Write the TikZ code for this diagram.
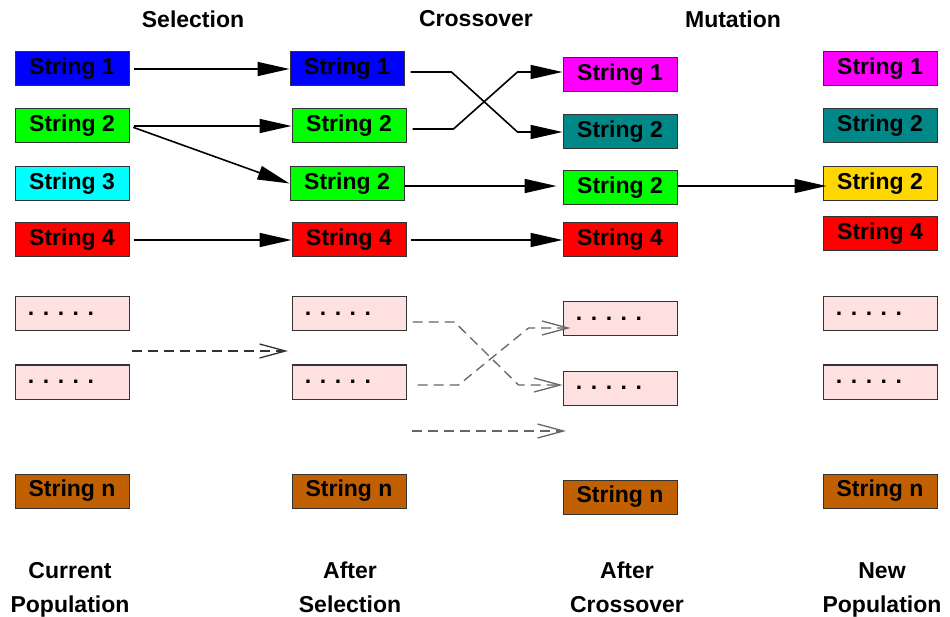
\documentclass[tikz,border=0pt]{standalone}
\usepackage{fontspec}
\setmainfont{Liberation Sans}
\usetikzlibrary{arrows.meta,positioning}

\definecolor{sblue}{RGB}{0,0,255}
\definecolor{sgreen}{RGB}{0,255,0}
\definecolor{scyan}{RGB}{0,255,255}
\definecolor{sred}{RGB}{255,0,0}
\definecolor{smagenta}{RGB}{255,0,255}
\definecolor{steal}{RGB}{0,136,136}
\definecolor{sgold}{RGB}{255,214,0}
\definecolor{spink}{RGB}{255,224,224}
\definecolor{sbrown}{RGB}{192,96,0}

\tikzset{
    strbox/.style={draw=black!80, line width=1pt, minimum width=114pt, minimum height=34pt,
        inner sep=0pt, font=\bfseries\fontsize{23}{27}\selectfont},
    dotbox/.style={strbox, fill=spink},
    solidarr/.style={line width=1.6pt, -{Triangle[length=32pt,width=14pt]}},
    dasharr/.style={line width=1.3pt, dash pattern=on 10pt off 6pt,
        -{Straight Barb[length=26pt,width=14pt]}},
    lbl/.style={font=\bfseries\fontsize{23}{34}\selectfont, align=center},
    collbl/.style={lbl, inner sep=0pt, anchor=north}
}

\begin{document}
\begin{tikzpicture}[x=1pt,y=-1pt]
    \useasboundingbox (0,0) rectangle (950,617);

    % headings
    \node[lbl] (hsel) at (193,19) {Selection};
    \node[lbl] (hcross) at (476,19) {Crossover};
    \node[lbl] (hmut) at (733,19) {Mutation};

    % current population
    \node[strbox, fill=sblue] (a1) at (72,69) {String 1};
    \node[strbox, fill=sgreen] (a2) at (72,126) {String 2};
    \node[strbox, fill=scyan] (a3) at (72,183.5) {String 3};
    \node[strbox, fill=sred] (a4) at (72,240) {String 4};
    \node[strbox, fill=sbrown] (an) at (72,491) {String n};

    % after selection
    \node[strbox, fill=sblue] (b1) at (347,69) {String 1};
    \node[strbox, fill=sgreen] (b2) at (349,126) {String 2};
    \node[strbox, fill=sgreen] (b3) at (347,183.5) {String 2};
    \node[strbox, fill=sred] (b4) at (349,240) {String 4};
    \node[strbox, fill=sbrown] (bn) at (349,491) {String n};

    % after crossover
    \node[strbox, fill=smagenta] (c1) at (620,75) {String 1};
    \node[strbox, fill=steal] (c2) at (620,132) {String 2};
    \node[strbox, fill=sgreen] (c3) at (620,188) {String 2};
    \node[strbox, fill=sred] (c4) at (620,240) {String 4};
    \node[strbox, fill=sbrown] (cn) at (620,497) {String n};

    % new population
    \node[strbox, fill=smagenta] (e1) at (880,69) {String 1};
    \node[strbox, fill=steal] (e2) at (880,126) {String 2};
    \node[strbox, fill=sgold] (e3) at (880,183.5) {String 2};
    \node[strbox, fill=sred] (e4) at (880,234) {String 4};
    \node[strbox, fill=sbrown] (en) at (880,491) {String n};

    % placeholder strings
    \foreach \name/\x/\y in {da1/72/314, da2/72/382, db1/349/314, db2/349/382,
                             dc1/620/319, dc2/620/388, de1/880/314, de2/880/382} {
        \node[dotbox] (\name) at (\x,\y) {. . . . .\kern22pt};
    }

    % selection
    \draw[solidarr, shorten <=4pt] (a1.east) -- (b1.west);
    \draw[solidarr, shorten <=4pt] (a2.east) -- (b2.west);
    \draw[solidarr, shorten <=4pt] (a2.east) -- (b3.west);
    \draw[solidarr, shorten <=4pt] (a4.east) -- (b4.west);

    % crossover
    \draw[solidarr] ([xshift=6pt,yshift=-3pt]b1.east) -- ++(41,0)
        -- ([xshift=-45pt]c2.west) -- (c2.west);
    \draw[solidarr] ([xshift=6pt,yshift=-3pt]b2.east) -- ++(41,0)
        -- ([xshift=-45pt,yshift=3pt]c1.west) -- ([yshift=3pt]c1.west);
    \draw[solidarr] ([yshift=2pt]b3.east |- c3.west) -- ([xshift=-6pt,yshift=2pt]c3.west);
    \draw[solidarr, shorten <=4pt] (b4.east) -- (c4.west);

    % mutation
    \draw[solidarr] ([yshift=2pt]c3.east) -- ([xshift=4pt,yshift=2pt]c3.east -| e3.west);

    % dashed copies
    \coordinate (sa) at (132,351);
    \coordinate (sb) at (288,351);
    \coordinate (sc) at (412,431);
    \coordinate (sd) at (566,431);
    \draw[dasharr, black!80] (sa) -- (sb);
    \draw[dasharr, black!60] ([xshift=6pt,yshift=-8pt]db1.east) -- ++(42,0)
        -- ([xshift=-44pt,yshift=3pt]dc2.west) -- ([yshift=3pt]dc2.west);
    \draw[dasharr, black!60] ([xshift=11pt,yshift=-3pt]db2.east) -- ++(41,0)
        -- ([xshift=-34pt,yshift=-9pt]dc1.west) -- ([xshift=8pt,yshift=-9pt]dc1.west);
    \draw[dasharr, black!60] (sc) -- (sd);

    % column labels
    \node[collbl] (lcur) at (70,562) {Current\\Population};
    \node[collbl] (lsel) at (350,562) {After\\Selection};
    \node[collbl] (lcross) at (627,562) {After\\Crossover};
    \node[collbl] (lnew) at (882,562) {New\\Population};
\end{tikzpicture}
\end{document}
